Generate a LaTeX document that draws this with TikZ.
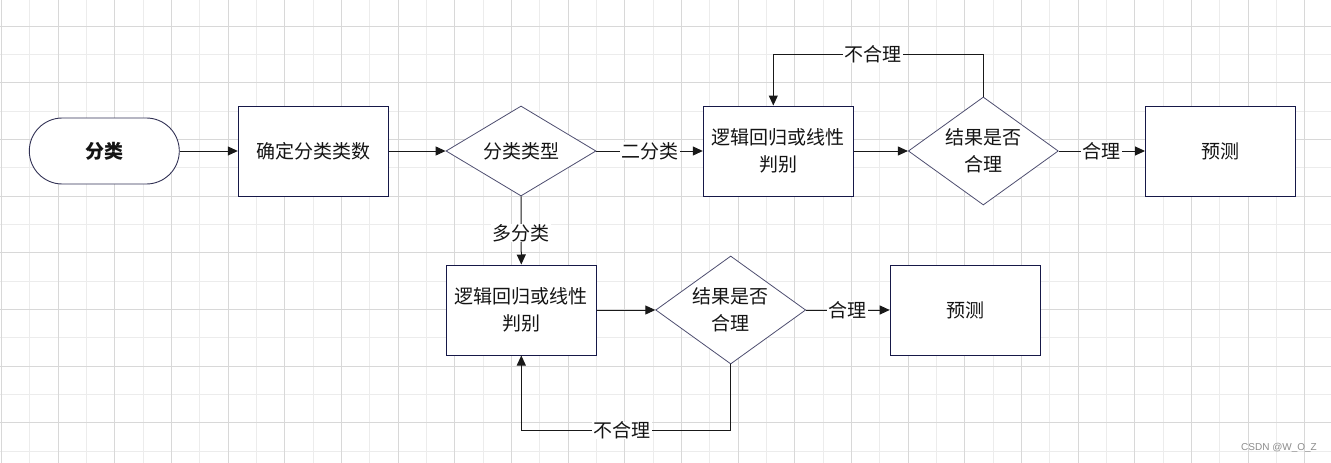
\documentclass[tikz,border=0pt]{standalone}
\usepackage{fontspec}
\setmainfont{Noto Sans CJK SC}
\newfontfamily\wmfont{Liberation Sans}
\usetikzlibrary{arrows.meta,shapes.geometric}

\definecolor{gridmajor}{RGB}{216,216,216}
\definecolor{gridminor}{RGB}{236,236,236}
\definecolor{boxline}{RGB}{22,24,72}
\definecolor{diamline}{RGB}{78,78,112}
\definecolor{termline}{RGB}{50,50,85}
\definecolor{edgeline}{RGB}{25,25,25}

\begin{document}
\begin{tikzpicture}[x=1pt,y=-1pt,
  every node/.style={font=\fontsize{19}{27}\selectfont, text=black!92, align=center},
  term/.style={draw=termline, line width=0.9pt, fill=white, rounded corners=33pt,
    minimum width=150pt, minimum height=66pt, inner sep=0pt},
  proc/.style={draw=boxline, line width=1pt, fill=white,
    minimum width=150pt, minimum height=90pt, inner sep=0pt},
  decision/.style={draw=diamline, line width=0.8pt, fill=white, shape=diamond,
    minimum width=150pt, minimum height=90pt, aspect=1.6667, inner sep=0pt},
  tall decision/.style={decision, minimum height=108pt, aspect=1.3889},
  edge/.style={draw=edgeline, line width=1pt, -{Triangle[length=10pt,width=9pt]}},
  lbl/.style={fill=white, inner xsep=1.5pt, inner ysep=0pt},
]
\useasboundingbox (0,0) rectangle (1331,463);
\fill[white] (0,0) rectangle (1331,463);

% background grid
\foreach \i in {0,...,22} {
  \draw[gridminor, line width=0.9pt] ({29.63+56.667*\i},0) -- ({29.63+56.667*\i},463);
}
\foreach \i in {0,...,7} {
  \draw[gridminor, line width=0.9pt] (0,{54.33+56.667*\i}) -- (1331,{54.33+56.667*\i});
}
\foreach \i in {0,...,23} {
  \draw[gridmajor, line width=0.9pt] ({1.3+56.667*\i},0) -- ({1.3+56.667*\i},463);
}
\foreach \i in {0,...,7} {
  \draw[gridmajor, line width=0.9pt] (0,{26+56.667*\i}) -- (1331,{26+56.667*\i});
}

% nodes
\node[term] (start) at (104.3,151) {\bfseries 分类};
\node[proc] (count) at (313.3,151) {确定分类类数};
\node[decision] (kind) at (521,151) {分类类型};
\node[proc] (binfit) at (778.3,151) {逻辑回归或线性\\判别};
\node[tall decision] (bincheck) at (983.3,151) {结果是否\\合理};
\node[proc] (binpred) at (1220.5,151) {预测};
\node[proc] (mulfit) at (521.3,310) {逻辑回归或线性\\判别};
\node[tall decision] (mulcheck) at (730.7,310) {结果是否\\合理};
\node[proc] (mulpred) at (965.2,310) {预测};

% loop corners
\coordinate (topturn) at (773.3,54.3);
\coordinate (botturn) at (521.3,430.3);

% connectors
\draw[edge] (start.east) -- (count.west);
\draw[edge] (count.east) -- (kind.west);
\draw[edge] (kind.east) -- node[lbl] {二分类} (binfit.west);
\draw[edge] (kind.south) -- node[lbl, pos=0.54] {多分类} (mulfit.north);
\draw[edge] (binfit.east) -- (bincheck.west);
\draw[edge] (bincheck.east) -- node[lbl] {合理} (binpred.west);
\draw[edge] (bincheck.north) |- (topturn) -- (topturn |- binfit.north);
\draw[edge] (mulfit.east) -- (mulcheck.west);
\draw[edge] (mulcheck.east) -- node[lbl] {合理} (mulpred.west);
\draw[edge] (mulcheck.south) |- (botturn) -- (mulfit.south);

\node[lbl] (toplbl) at (872.7,54.3) {不合理};
\node[lbl] (botlbl) at (621.7,430.3) {不合理};

\node[font=\wmfont\fontsize{10}{12}\selectfont, text=black!45] (mark) at (1279,448) {CSDN @W\_O\_Z};
\end{tikzpicture}
\end{document}
